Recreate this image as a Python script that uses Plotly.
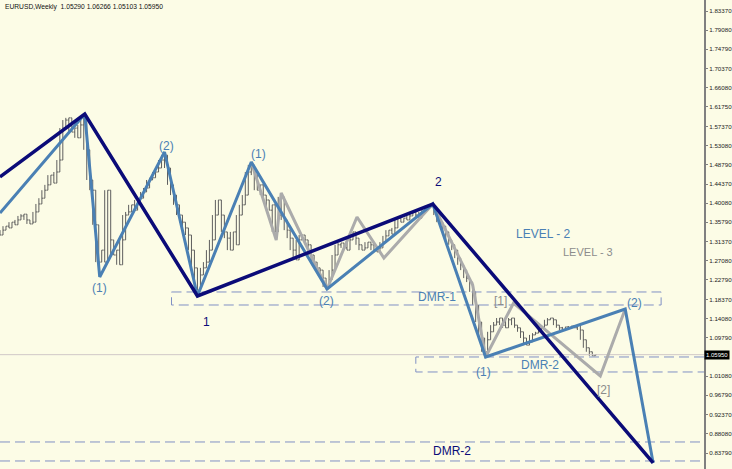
import plotly.graph_objects as go

# ---------------- data ----------------
title_text = "EURUSD,Weekly  1.05290 1.06266 1.05103 1.05950"
last_price = 1.05950

bar_idx = list(range(0, 600, 3))
closes = [
    1.329, 1.340, 1.349, 1.345, 1.358, 1.352, 1.363, 1.372, 1.376, 1.363,
    1.354, 1.358, 1.381, 1.399, 1.412, 1.430, 1.442, 1.464, 1.446, 1.471,
    1.498, 1.570, 1.588, 1.593, 1.561, 1.570, 1.548, 1.577, 1.597, 1.521,
    1.453, 1.430, 1.352, 1.268, 1.295, 1.268, 1.430, 1.318, 1.284, 1.295,
    1.262, 1.318, 1.374, 1.381, 1.397, 1.385, 1.408, 1.412, 1.426, 1.435,
    1.453, 1.458, 1.471, 1.480, 1.498, 1.509, 1.480, 1.442, 1.419, 1.397,
    1.374, 1.358, 1.345, 1.329, 1.295, 1.255, 1.205, 1.239, 1.255, 1.268,
    1.295, 1.318, 1.374, 1.408, 1.374, 1.336, 1.322, 1.295, 1.336, 1.307,
    1.374, 1.397, 1.419, 1.471, 1.487, 1.464, 1.430, 1.442, 1.419, 1.408,
    1.385, 1.397, 1.336, 1.374, 1.415, 1.363, 1.340, 1.322, 1.295, 1.273,
    1.318, 1.329, 1.318, 1.307, 1.284, 1.268, 1.255, 1.250, 1.232, 1.212,
    1.228, 1.250, 1.284, 1.307, 1.311, 1.300, 1.295, 1.318, 1.336, 1.322,
    1.307, 1.295, 1.300, 1.313, 1.307, 1.295, 1.291, 1.300, 1.313, 1.327,
    1.340, 1.331, 1.345, 1.367, 1.358, 1.367, 1.363, 1.372, 1.381, 1.374,
    1.367, 1.381, 1.385, 1.392, 1.397, 1.390, 1.374, 1.358, 1.349, 1.336,
    1.318, 1.307, 1.295, 1.277, 1.262, 1.250, 1.232, 1.223, 1.201, 1.171,
    1.133, 1.097, 1.066, 1.093, 1.111, 1.126, 1.133, 1.142, 1.126, 1.120,
    1.138, 1.142, 1.126, 1.120, 1.111, 1.097, 1.081, 1.088, 1.104, 1.108,
    1.111, 1.120, 1.126, 1.138, 1.142, 1.138, 1.126, 1.120, 1.115, 1.122,
    1.120, 1.124, 1.120, 1.126, 1.115, 1.093, 1.075, 1.066, 1.057, 1.0595,
]

# wave levels (bar index, price)
lvl1_x = [0, 85, 198, 434, 655]
lvl1_y = [1.4598, 1.6017, 1.1917, 1.3989, 0.8155]

lvl2_x = [0, 85, 100, 165, 198, 252, 328, 434, 487, 627, 655]
lvl2_y = [1.3787, 1.6017, 1.2345, 1.5161, 1.1917, 1.4935, 1.2074, 1.3989,
          1.0542, 1.1624, 0.8155]

lvl3_x = [252, 277, 282, 328, 358, 385, 434, 474, 487, 515, 602, 627]
lvl3_y = [1.4935, 1.3178, 1.4237, 1.2074, 1.3696, 1.2773, 1.3989, 1.2165,
          1.0542, 1.1759, 1.0114, 1.1624]

# DMR zones
dmr1_x = [172, 663]
dmr1_y = [1.1714, 1.2007]
dmr2_x = [417, 706]
dmr2_y = [1.0205, 1.0543]
dmr2_low_y = [0.8628, 0.8200]

tick_vals = [1.83370, 1.79080, 1.74790, 1.70370, 1.66080, 1.61750, 1.57370,
             1.53080, 1.48790, 1.44370, 1.40080, 1.35790, 1.31370, 1.27080,
             1.22790, 1.18370, 1.14080, 1.09790, 1.01080, 0.96790, 0.92370,
             0.88080, 0.83790]
tick_text = [f"{v:.5f}" for v in tick_vals]

# labels: (text, x, y, style)
labels = [
    ("(1)", 100, 1.2097, "l2"), ("(2)", 167, 1.5296, "l2"),
    ("1", 207, 1.1331, "l1"), ("(1)", 259, 1.5116, "l2"),
    ("(2)", 327, 1.1804, "l2"), ("2", 440, 1.4485, "l1"),
    ("DMR-1", 438, 1.1894, "l2"), ("[1]", 502, 1.1804, "l3"),
    ("(2)", 636, 1.1759, "l2"), ("(1)", 485, 1.0204, "l2"),
    ("DMR-2", 542, 1.0362, "l2"), ("[2]", 605, 0.9799, "l3"),
    ("LEVEL - 2", 545, 1.3314, "l2"), ("LEVEL - 3", 590, 1.2908, "l3s"),
    ("DMR-2", 453, 0.8424, "l1"),
]

# ---------------- styles ----------------
NAVY = "#0B0B78"
STEEL = "#4A80B4"
GRAY = "#ABABAB"
BARS = "#5E5E5E"
DASH = "#8090C4"
BG = "#FCFCE6"
FONT = "Liberation Sans, Arial, sans-serif"

n = len(closes)
opens = [closes[0]] + closes[:-1]
# bar extent: span of the neighbouring samples
highs = [max(closes[max(0, i - 1):i + 2]) for i in range(n)]
lows = [min(closes[max(0, i - 1):i + 2]) for i in range(n)]

fig = go.Figure()

fig.add_trace(go.Ohlc(
    x=bar_idx, open=opens, high=highs, low=lows, close=closes,
    increasing=dict(line=dict(color=BARS, width=1)),
    decreasing=dict(line=dict(color=BARS, width=1)),
    tickwidth=0.45, hoverinfo="skip", showlegend=False,
))

# current price line
fig.add_trace(go.Scatter(x=[0, 706], y=[last_price, last_price], mode="lines",
                         line=dict(color="#D0C8C8", width=1),
                         hoverinfo="skip", showlegend=False))

# dashed DMR zones
def dashed(xs, ys):
    fig.add_trace(go.Scatter(x=xs, y=ys, mode="lines",
                             line=dict(color=DASH, width=1, dash="10px,5px"),
                             hoverinfo="skip", showlegend=False))

dashed([dmr1_x[0], dmr1_x[1], dmr1_x[1], dmr1_x[0], dmr1_x[0]],
       [dmr1_y[1], dmr1_y[1], dmr1_y[0], dmr1_y[0], dmr1_y[1]])
dashed([dmr2_x[1], dmr2_x[0], dmr2_x[0], dmr2_x[1]],
       [dmr2_y[1], dmr2_y[1], dmr2_y[0], dmr2_y[0]])
for yv in dmr2_low_y:
    dashed([0, 706], [yv, yv])

# wave lines
fig.add_trace(go.Scatter(x=lvl3_x, y=lvl3_y, mode="lines",
                         line=dict(color=GRAY, width=3),
                         hoverinfo="skip", showlegend=False))
fig.add_trace(go.Scatter(x=lvl2_x, y=lvl2_y, mode="lines",
                         line=dict(color=STEEL, width=3),
                         hoverinfo="skip", showlegend=False))
fig.add_trace(go.Scatter(x=lvl1_x, y=lvl1_y, mode="lines",
                         line=dict(color=NAVY, width=3.5),
                         hoverinfo="skip", showlegend=False))

styles = {
    "l1": dict(color=NAVY, size=12),
    "l2": dict(color=STEEL, size=12),
    "l3": dict(color="#8C8C8C", size=12),
    "l3s": dict(color="#8C8C8C", size=11),
}
annotations = []
for txt, xv, yv, st in labels:
    annotations.append(dict(x=xv, y=yv, xref="x", yref="y", text=txt,
                            showarrow=False,
                            font=dict(family=FONT, **styles[st])))

annotations.append(dict(x=0.004, y=0.997, xref="paper", yref="paper",
                        xanchor="left", yanchor="top", text=title_text,
                        showarrow=False,
                        font=dict(family=FONT, size=6.7, color="#111111")))
annotations.append(dict(x=1.0, y=last_price, xref="paper", yref="y",
                        xanchor="left", yanchor="middle",
                        text=f"{last_price:.5f}", showarrow=False,
                        bgcolor="#000000", borderpad=1,
                        font=dict(family=FONT, size=6, color="#FFFFFF")))

fig.update_layout(
    width=732, height=469, autosize=False,
    margin=dict(l=0, r=26, t=0, b=0),
    paper_bgcolor=BG, plot_bgcolor=BG,
    annotations=annotations,
    showlegend=False,
    xaxis=dict(range=[0, 706], visible=False, rangeslider=dict(visible=False),
               fixedrange=True),
    yaxis=dict(range=[0.8019, 1.8585], side="right", showgrid=False,
               zeroline=False, showline=True, linecolor="#808080",
               linewidth=2, ticks="outside", ticklen=2, tickcolor="#808080",
               tickvals=tick_vals, ticktext=tick_text,
               tickfont=dict(family=FONT, size=6.2, color="#222222")),
)

fig.write_html("out.html",
               config={"displayModeBar": False},
               post_script="document.body.style.margin='0px';"
                           "document.body.style.overflow='hidden';")
